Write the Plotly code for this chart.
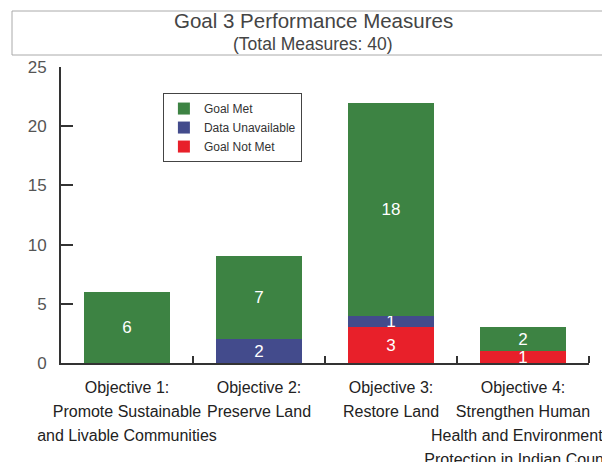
import plotly.graph_objects as go

objectives = ["Objective 1:<br>Promote Sustainable<br>and Livable Communities",
              "Objective 2:<br>Preserve Land",
              "Objective 3:<br>Restore Land",
              "Objective 4:<br>Strengthen Human<br>Health and Environmental<br>Protection in Indian Country"]
goal_not_met = [0, 0, 3, 1]
data_unavailable = [0, 2, 1, 0]
goal_met = [6, 7, 18, 2]

xs = list(range(len(objectives)))

def labels(vals):
    return [str(v) if v else "" for v in vals]

# big tick font gives the wide line spacing, spans keep the glyphs smaller
def small_lines(lab):
    return "<br>".join('<span style="font-size:16px">%s</span>' % s for s in lab.split("<br>"))

fig = go.Figure()
series = [("Goal Not Met", goal_not_met, "#e8202a"),
          ("Data Unavailable", data_unavailable, "#434b8c"),
          ("Goal Met", goal_met, "#3d8343")]
for name, vals, col in series:
    fig.add_trace(go.Bar(x=xs, y=[v if v else None for v in vals], name=name,
                         marker=dict(color=col, line=dict(width=0)),
                         text=labels(vals), textposition="inside", textangle=0,
                         insidetextanchor="middle", constraintext="none",
                         textfont=dict(color="white", size=17, family="Liberation Sans"),
                         width=0.65))

# page body has an 8px margin, so the figure is 8px smaller each way
fig.update_layout(
    width=602, height=454,
    margin=dict(l=53, r=21, t=59, b=99, autoexpand=False),
    barmode="stack",
    paper_bgcolor="white", plot_bgcolor="white",
    uniformtext=dict(minsize=17, mode="show"),
    font=dict(family="Liberation Sans", color="#444"),
    legend=dict(x=0.193, y=0.912, xanchor="left", yanchor="top",
                traceorder="reversed", bordercolor="#444", borderwidth=1,
                font=dict(size=12, color="#333"), bgcolor="white",
                itemwidth=30),
    xaxis=dict(range=[-0.5, 3.5], tickvals=xs,
               ticktext=[small_lines(o) for o in objectives],
               tickangle=0, ticks="", ticklabelstandoff=6,
               ticklabeloverflow="allow",
               tickfont=dict(family="Liberation Sans", size=18.5, color="#222"),
               minor=dict(tickvals=[0.5, 1.5, 2.5, 3.5], ticks="inside", ticklen=7,
                          tickwidth=2, tickcolor="#333", showgrid=False),
               showline=True, linecolor="#333", linewidth=2, showgrid=False,
               zeroline=False, automargin=False, layer="above traces"),
    yaxis=dict(range=[0, 25], dtick=5, ticks="inside", ticklen=12, tickwidth=2,
               tickcolor="#333", showline=True, linecolor="#333", linewidth=2,
               showgrid=False, zeroline=False, automargin=False,
               tickfont=dict(size=17, color="#555"), ticklabelstandoff=9),
    shapes=[dict(type="rect", xref="paper", yref="paper",
                 x0=(12 - 61) / 528, x1=1.06, y0=(363 - 55) / 296, y1=(363 - 11) / 296,
                 line=dict(color="#aaa", width=1), fillcolor="white", layer="below")],
    annotations=[
        dict(text="Goal 3 Performance Measures", xref="paper", yref="paper",
             x=(313 - 61) / 528, y=(363 - 21) / 296, showarrow=False,
             xanchor="center", yanchor="middle",
             font=dict(size=20.5, color="#444")),
        dict(text="(Total Measures: 40)", xref="paper", yref="paper",
             x=(313 - 61) / 528, y=(363 - 44) / 296, showarrow=False,
             xanchor="center", yanchor="middle",
             font=dict(size=17.5, color="#444")),
    ],
)

fig.write_html("out.html")
